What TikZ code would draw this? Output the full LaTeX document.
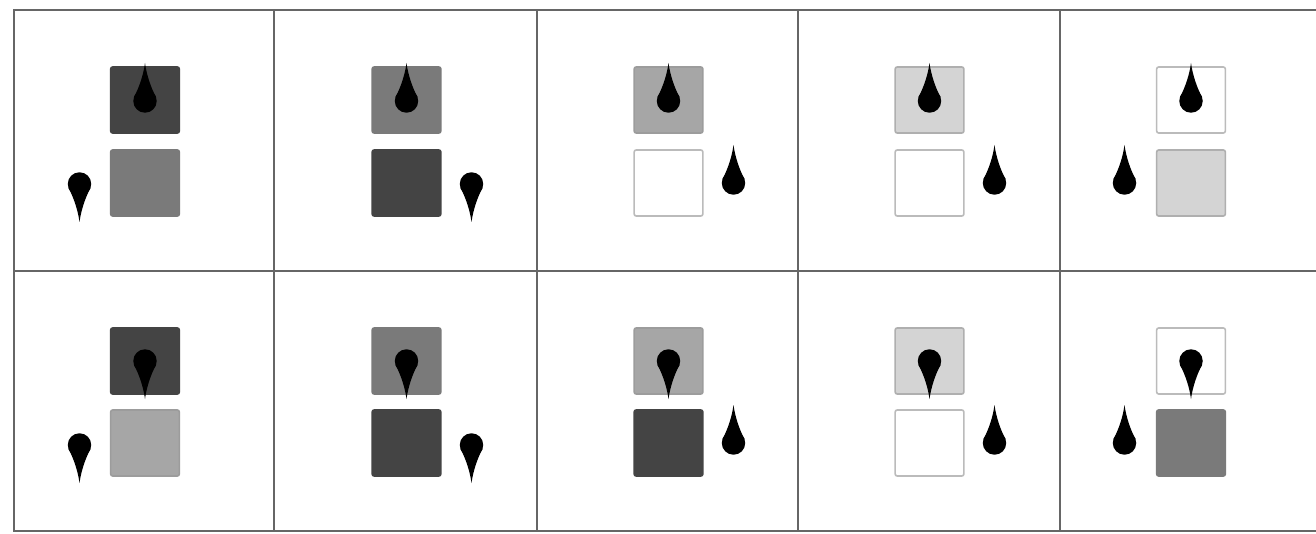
\documentclass[tikz,border=0pt]{standalone}
\usepackage{tikz}
\definecolor{gridline}{HTML}{666666}
\definecolor{sqdark}{HTML}{444444}
\definecolor{sqmid}{HTML}{7A7A7A}
\definecolor{sqlight}{HTML}{A6A6A6}
\definecolor{sqpale}{HTML}{D4D4D4}
\definecolor{edgelight}{HTML}{9C9C9C}
\definecolor{edgepale}{HTML}{AFAFAF}
\definecolor{edgewhite}{HTML}{BBBBBB}
\tikzset{
  sq/.style={rectangle, rounded corners=1.5pt, minimum width=51.5pt, minimum height=49.5pt, inner sep=0pt, line width=1.2pt},
  sqD/.style={sq, fill=sqdark, draw=sqdark},
  sqM/.style={sq, fill=sqmid, draw=sqmid},
  sqL/.style={sq, fill=sqlight, draw=edgelight},
  sqP/.style={sq, fill=sqpale, draw=edgepale},
  sqW/.style={sq, fill=white, draw=edgewhite},
  gridpen/.style={draw=gridline, line width=1.5pt},
  % teardrop with its round end at the origin, tip pointing up
  dropup/.pic={
    \fill[black] (0,0) circle (8.8pt);
    \fill[black] (-11.2,-3.6) .. controls (-6,-13) and (-1.6,-26) .. (0,-38)
                 .. controls (1.6,-26) and (6,-13) .. (11.2,-3.6) -- cycle;
  },
  % teardrop with its round end at the origin, tip pointing down
  dropdown/.pic={
    \fill[black] (0,0) circle (8.8pt);
    \fill[black] (-11.2,3.6) .. controls (-6,13) and (-1.6,26) .. (0,38)
                 .. controls (1.6,26) and (6,13) .. (11.2,3.6) -- cycle;
  }
}
\begin{document}
\begin{tikzpicture}[x=0.75pt, y=-0.75pt]
\useasboundingbox (0,0) rectangle (1316,534);
\fill[white] (0,0) rectangle (1316,534);

% grid of ten cells
\draw[gridpen] (1316,10) -- (14,10) -- (14,531) -- (1316,531);
\draw[gridpen] (14,271) -- (1316,271);
\foreach \gx in {274,537,798,1060} \draw[gridpen] (\gx,10) -- (\gx,531);

% ---- row 1 ----
\node[sqD] (a1t) at (145,100) {};
\node[sqM] (a1b) at (145,183) {};
\pic at (145,101) {dropup};
\pic at (79.5,184) {dropdown};

\node[sqM] (a2t) at (406.5,100) {};
\node[sqD] (a2b) at (406.5,183) {};
\pic at (406.5,101) {dropup};
\pic at (471.5,184) {dropdown};

\node[sqL] (a3t) at (668.5,100) {};
\node[sqW] (a3b) at (668.5,183) {};
\pic at (668.5,101) {dropup};
\pic at (733.5,183) {dropup};

\node[sqP] (a4t) at (929.5,100) {};
\node[sqW] (a4b) at (929.5,183) {};
\pic at (929.5,101) {dropup};
\pic at (994.5,183) {dropup};

\node[sqW] (a5t) at (1191,100) {};
\node[sqP] (a5b) at (1191,183) {};
\pic at (1191,101) {dropup};
\pic at (1124.5,183) {dropup};

% ---- row 2 ----
\node[sqD] (b1t) at (145,361) {};
\node[sqL] (b1b) at (145,443) {};
\pic at (145,361) {dropdown};
\pic at (79.5,445) {dropdown};

\node[sqM] (b2t) at (406.5,361) {};
\node[sqD] (b2b) at (406.5,443) {};
\pic at (406.5,361) {dropdown};
\pic at (471.5,445) {dropdown};

\node[sqL] (b3t) at (668.5,361) {};
\node[sqD] (b3b) at (668.5,443) {};
\pic at (668.5,361) {dropdown};
\pic at (733.5,443) {dropup};

\node[sqP] (b4t) at (929.5,361) {};
\node[sqW] (b4b) at (929.5,443) {};
\pic at (929.5,361) {dropdown};
\pic at (994.5,443) {dropup};

\node[sqW] (b5t) at (1191,361) {};
\node[sqM] (b5b) at (1191,443) {};
\pic at (1191,361) {dropdown};
\pic at (1124.5,443) {dropup};
\end{tikzpicture}
\end{document}
